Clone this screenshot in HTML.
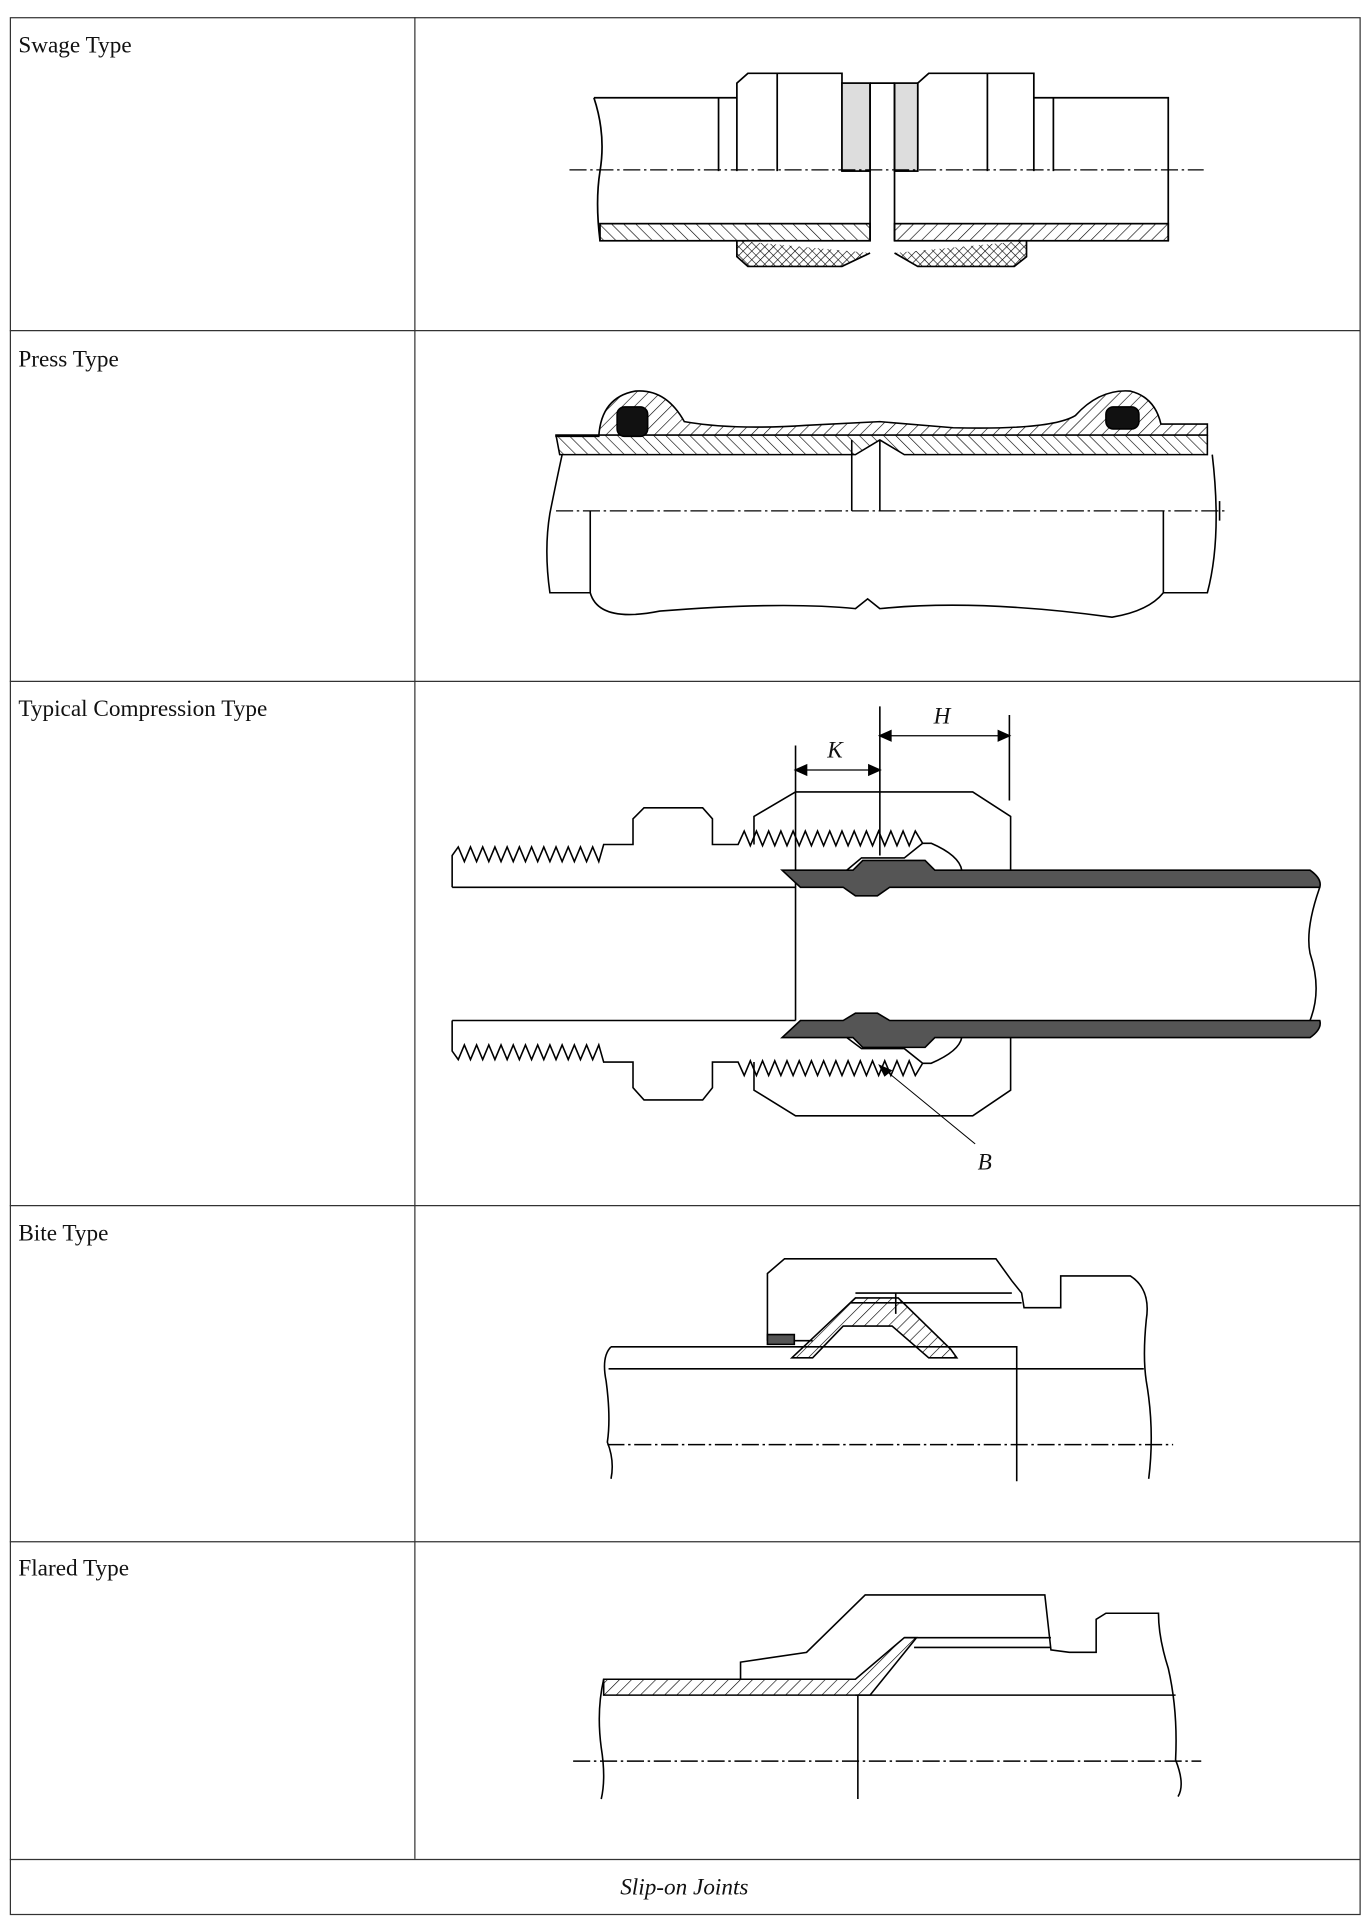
<!DOCTYPE html>
<html><head><meta charset="utf-8">
<style>
html,body{margin:0;padding:0;background:#fff}
svg{display:block}
text{font-family:"Liberation Serif",serif;fill:#111}
</style></head>
<body>
<svg width="1365" height="1920" viewBox="0 0 1117 1571" preserveAspectRatio="none" xmlns="http://www.w3.org/2000/svg">
<defs>
<pattern id="hatch" width="7" height="7" patternUnits="userSpaceOnUse" patternTransform="rotate(45)"><line x1="0" y1="0" x2="0" y2="7" stroke="#000" stroke-width="1"/></pattern>
<pattern id="hatch2" width="7" height="7" patternUnits="userSpaceOnUse" patternTransform="rotate(-45)"><line x1="0" y1="0" x2="0" y2="7" stroke="#000" stroke-width="1"/></pattern>
<pattern id="cross" width="5" height="5" patternUnits="userSpaceOnUse" patternTransform="rotate(45)"><path d="M0 0V5M0 0H5" stroke="#000" stroke-width="1"/></pattern>
</defs>
<g fill="none" stroke="#333" stroke-width="1">
<rect x="8.5" y="14.5" width="1104.5" height="1552"/>
<line x1="339.5" y1="14" x2="339.5" y2="1521"/>
<line x1="8" y1="270.5" x2="1113" y2="270.5"/>
<line x1="8" y1="557.5" x2="1113" y2="557.5"/>
<line x1="8" y1="986.5" x2="1113" y2="986.5"/>
<line x1="8" y1="1261.5" x2="1113" y2="1261.5"/>
<line x1="8" y1="1521.5" x2="1113" y2="1521.5"/>
</g>
<g font-size="19">
<text x="15" y="43">Swage Type</text>
<text x="15" y="300">Press Type</text>
<text x="15" y="586">Typical Compression Type</text>
<text x="15" y="1015">Bite Type</text>
<text x="15" y="1289">Flared Type</text>
<text x="560" y="1550" text-anchor="middle" font-style="italic">Slip-on Joints</text>
</g>

<g fill="none" stroke="#000" stroke-width="1.4">
<path d="M486 80H603M846 80H956V197M486 80Q496 110 491 140Q487 165 491 197"/>
<path d="M603 140V68L612 60H689V140M636 60V140M588 80V140M751 140V68L760 60H846V140M808 60V140M862 80V140"/>
<rect x="689" y="68" width="23" height="72" fill="#ddd"/>
<rect x="732" y="68" width="19" height="72" fill="#ddd"/>
<path d="M712 68V197M732 68V197M712 68H732"/>
<rect x="491" y="183" width="221" height="14" fill="url(#hatch2)"/>
<rect x="732" y="183" width="224" height="14" fill="url(#hatch)"/>
<path d="M603 197V210L612 218H689L712 207M732 207L751 218H830L840 210V197" fill="url(#cross)"/>
<line x1="466" y1="139" x2="985" y2="139" stroke-width="1" stroke-dasharray="14 3 2 3"/>
</g>

<g fill="none" stroke="#000" stroke-width="1.3">
<path d="M455 357H490Q492 325 520 320Q545 318 560 345Q600 352 660 348L720 345L780 350Q860 352 880 340Q900 318 925 320Q945 325 950 347H988V356H455Z" fill="url(#hatch)"/>
<path d="M455 356L458 372H700L720 360L740 372H988V356" fill="url(#hatch2)"/>
<rect x="505" y="333" width="25" height="24" rx="6" fill="#111"/>
<rect x="905" y="333" width="27" height="18" rx="6" fill="#111"/>
<path d="M697 360V418M720 360V418"/>
<path d="M460 372Q455 395 450 420Q445 450 450 485H483V418M483 485Q490 510 540 500Q640 492 700 498L710 490L720 498Q800 490 910 505Q940 500 952 485H988Q1000 440 992 372"/>
<path d="M952 418V485"/>
<line x1="455" y1="418" x2="1005" y2="418" stroke-width="1" stroke-dasharray="14 3 2 3"/>
<path d="M998 410V426"/>
</g>

<g fill="none" stroke="#000" stroke-width="1.3">
<path d="M370 726V700L375 693L380 705L385 693L390 705L395 693L400 705L405 693L410 705L415 693L420 705L425 693L430 705L435 693L440 705L445 693L450 705L455 693L460 705L465 693L470 705L475 693L480 705L485 693L490 705L494 691H518V670L527 661H575L583 670V691H604L609 680L614 692L619 680L624 692L629 680L634 692L639 680L644 692L649 680L654 692L659 680L664 692L669 680L674 692L679 680L684 692L689 680L694 692L699 680L704 692L709 680L714 692L719 680L724 692L729 680L734 692L739 680L744 692L749 680L755 690H762Q785 700 787 712"/>
<path d="M617 691V668L651 648H796L827 668V712"/>
<path d="M370 835V860L375 867L380 855L385 867L390 855L395 867L400 855L405 867L410 855L415 867L420 855L425 867L430 855L435 867L440 855L445 867L450 855L455 867L460 855L465 867L470 855L475 867L480 855L485 867L490 855L494 869H518V890L527 900H575L583 890V869H604L609 880L614 868L619 880L624 868L629 880L634 868L639 880L644 868L649 880L654 868L659 880L664 868L669 880L674 868L679 880L684 868L689 880L694 868L699 880L704 868L709 880L714 868L719 880L724 868L729 880L734 868L739 880L744 868L749 880L755 870H762Q785 860 787 849"/>
<path d="M617 869V892L651 913H796L827 892V849"/>
<path d="M755 690L740 702H705L693 712M755 870L740 858H705L693 849"/>
<path d="M370 726H651M370 835H651M651 610V835"/>
<path d="M640 712H698L706 704H757L765 712H1072Q1082 719 1080 726H728L718 733H700L690 726H655Z" fill="#555"/>
<path d="M655 835H690L700 829H718L728 835H1080Q1082 842 1072 849H765L757 857H706L698 849H640Z" fill="#555"/>
<path d="M1080 726Q1068 760 1072 780Q1082 810 1072 835" fill="none"/>
<path d="M720 578V700M826 585V655"/>
<path d="M655 630H716M724 602H822" stroke-width="1"/>
<path d="M651 630L660 626V634ZM720 630L711 626V634ZM720 602L729 598V606ZM826 602L817 598V606Z" fill="#000"/>
<path d="M720 872L798 936" stroke-width="0.8"/>
<path d="M720 872L729 876L724 880Z" fill="#000"/>
</g>
<g font-size="19" font-style="italic">
<text x="764" y="592">H</text>
<text x="677" y="620">K</text>
<text x="800" y="957">B</text>
</g>

<g fill="none" stroke="#000" stroke-width="1.3">
<path d="M628 1097V1042L642 1030H815L828 1048L836 1058L838 1070H868V1044H925Q942 1055 938 1080Q935 1110 938 1130Q945 1170 940 1210"/>
<path d="M628 1097H665"/>
<path d="M700 1058H828M696 1066H836M733 1058V1075"/>
<path d="M648 1111L700 1062H735L778 1104L783 1111H760L730 1085L690 1085L665 1111Z" fill="url(#hatch)"/>
<path d="M628 1092H650V1100H628Z" fill="#555"/>
<path d="M500 1102H832V1212M498 1120H936"/>
<path d="M500 1102Q492 1110 496 1130Q500 1160 497 1180Q503 1195 500 1210"/>
<line x1="497" y1="1182" x2="960" y2="1182" stroke-width="1.2" stroke-dasharray="14 3 2 3"/>
</g>

<g fill="none" stroke="#000" stroke-width="1.3">
<path d="M606 1374V1360L660 1352L708 1305H855L860 1350L875 1352H897V1325L905 1320H948Q948 1340 956 1365Q964 1400 962 1440Q970 1460 964 1470"/>
<path d="M740 1340H860M748 1348H860"/>
<path d="M494 1374H700L740 1340H750L712 1387H494Z" fill="url(#hatch)"/>
<path d="M700 1387H962M702 1387V1472"/>
<path d="M494 1374Q488 1400 492 1430Q496 1455 492 1472"/>
<line x1="469" y1="1441" x2="983" y2="1441" stroke-width="1.2" stroke-dasharray="14 3 2 3"/>
</g>
</svg>
</body></html>
